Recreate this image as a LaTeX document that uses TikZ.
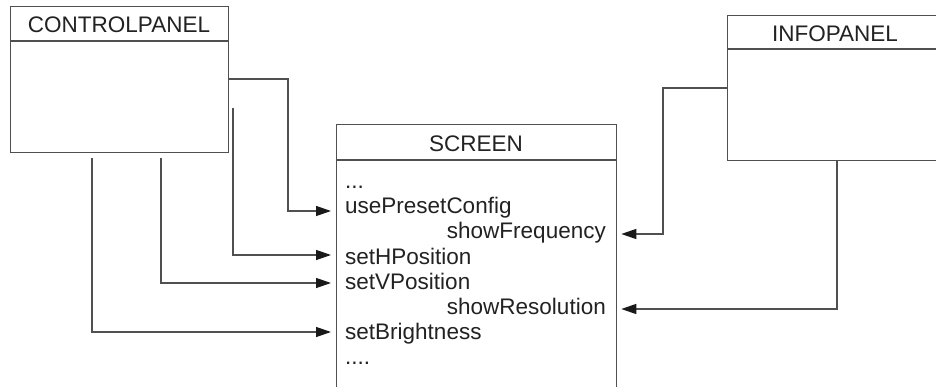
\documentclass[tikz,border=0pt]{standalone}
\usepackage{fontspec}
\setmainfont{Liberation Sans}
\usetikzlibrary{arrows.meta,calc}
\definecolor{linecol}{HTML}{505050}
\definecolor{txtcol}{HTML}{222222}
\tikzset{
  umlbox/.style={draw=linecol, line width=1.3pt, fill=white, rectangle, inner sep=0pt, anchor=north west},
  hdr/.style={draw=linecol, line width=1.3pt},
  ttl/.style={text=txtcol, font=\fontsize{22.5}{25}\selectfont, inner sep=0pt, anchor=base},
  meth/.style={text=txtcol, font=\fontsize{22.5}{25}\selectfont, inner sep=0pt},
  conn/.style={draw=linecol, line width=1.3pt, -{Triangle[length=15pt,width=10pt,color=black!90]}}
}
\begin{document}
\begin{tikzpicture}[x=1pt,y=-1pt]
\clip (0,0) rectangle (936,387);
\fill[white] (0,0) rectangle (936,387);
% boxes
\node[umlbox, minimum width=218pt, minimum height=146pt] (cp) at (10,6) {};
\draw[hdr] (cp.north west |- 0,41) -- (cp.north east |- 0,41);
\node[ttl] (cpt) at (119,33) {CONTROLPANEL};

\node[umlbox, minimum width=218pt, minimum height=145pt] (ip) at (727,15) {};
\draw[hdr] (ip.north west |- 0,49) -- (ip.north east |- 0,49);
\node[ttl] (ipt) at (835,42) {INFOPANEL};

\node[umlbox, minimum width=280pt, minimum height=280pt] (scr) at (336,124) {};
\draw[hdr] (scr.north west |- 0,160) -- (scr.north east |- 0,160);
\node[ttl] (scrt) at (476,151.5) {SCREEN};

% methods
\node[meth, anchor=base west] (d1) at (345,189) {...};
\node[meth, anchor=base west] (m1) at (345,214) {usePresetConfig};
\node[meth, anchor=base east] (m2) at (606,239) {showFrequency};
\node[meth, anchor=base west] (m3) at (345,264) {setHPosition};
\node[meth, anchor=base west] (m4) at (345,289) {setVPosition};
\node[meth, anchor=base east] (m5) at (606,314) {showResolution};
\node[meth, anchor=base west] (m6) at (345,339) {setBrightness};
\node[meth, anchor=base west] (d2) at (345,364) {....};

% connector end points
\coordinate (t1) at ($(scr.west |- 0,211)+(-5,0)$);
\coordinate (t3) at ($(scr.west |- 0,255)+(-5,0)$);
\coordinate (t4) at ($(scr.west |- 0,283)+(-5,0)$);
\coordinate (t6) at ($(scr.west |- 0,332)+(-5,0)$);
\coordinate (t2) at ($(scr.east |- 0,234)+(4,0)$);
\coordinate (t5) at ($(scr.east |- 0,309)+(4,0)$);
\coordinate (s2) at (233,108);
\coordinate (s3) at (161,158);
\coordinate (s4) at (92,158);

% connectors
\draw[conn] (cp.east |- 0,79) -| (288,211) -- (t1);
\draw[conn] (s2) |- (t3);
\draw[conn] (s3) |- (t4);
\draw[conn] (s4) |- (t6);
\draw[conn] (ip.west |- 0,88) -| (663,234) -- (t2);
\draw[conn] (ip.south -| 837,0) |- (t5);
\end{tikzpicture}
\end{document}
